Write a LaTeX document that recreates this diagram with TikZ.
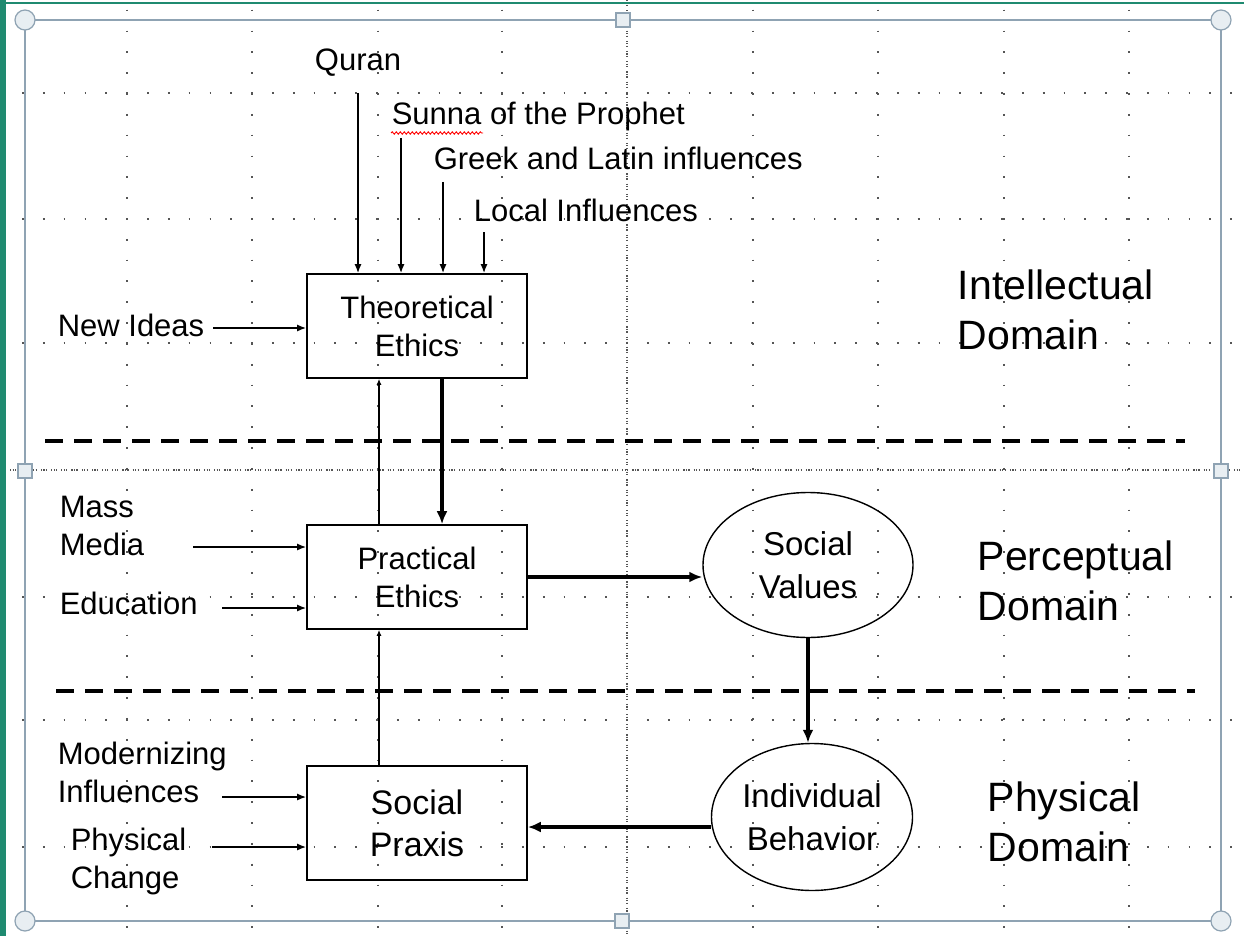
\documentclass[tikz,border=0pt]{standalone}
\usepackage{fontspec}
\setmainfont{Liberation Sans}
\usepackage{tikz}
\usepackage{xcolor}
\usetikzlibrary{shapes}
\usetikzlibrary{positioning, arrows.meta}
\usetikzlibrary{decorations.pathmorphing}
\definecolor{framecol}{HTML}{8FA3B3}
\definecolor{handlecol}{HTML}{E8EEF2}
\definecolor{tealcol}{HTML}{1F8A70}
\definecolor{gridcol}{HTML}{555555}

\begin{document}
\begin{tikzpicture}[x=1pt, y=-1pt, line width=1.6pt,
    box/.style = {draw, rectangle, minimum width=220pt, minimum height=104pt, align=center, font=\fontsize{31}{38}\selectfont},
    oval/.style = {draw, ellipse, line width=1.4pt, inner sep=0pt, minimum width=210pt, minimum height=145pt, align=center, font=\fontsize{33}{43}\selectfont},
    lbl/.style = {align=left, inner sep=0pt, font=\fontsize{31}{38}\selectfont},
    realm/.style = {anchor=west, align=left, inner sep=0pt, font=\fontsize{41}{50}\selectfont},
    feed/.style = {-{Latex[length=9pt,width=7pt]}, line width=1.6pt},
    flow/.style = {-{Latex[length=13pt,width=11pt]}, line width=3.6pt},
    back/.style = {-{Latex[length=6pt,width=5pt]}, line width=1.6pt},
    divider/.style = {dash pattern=on 18pt off 11pt, line width=4pt},
    dotgrid/.style = {gridcol, line width=1.8pt, dash pattern=on 1.8pt off 19.03pt},
    guide/.style = {gridcol, line width=1.2pt, dash pattern=on 1.2pt off 1.3pt on 1.2pt off 1.3pt on 1.2pt off 4pt}]
    \useasboundingbox (0,0) rectangle (1244,936);
    \fill[white] (0,0) rectangle (1244,936);

    % Slide grid and selection frame
    \foreach \gx in {127,252,378,502,753,878,1004,1129}
        \draw[dotgrid] (\gx,9.7) -- (\gx,936);
    \foreach \gy in {93,219,343,597,720,847}
        \draw[dotgrid] (1.2,\gy) -- (1244,\gy);
    \draw[guide] (627,0) -- (627,936);
    \draw[guide] (0,470) -- (1244,470);
    \fill[tealcol] (0,0) rectangle (6,936);
    \draw[tealcol, line width=2pt] (0,3) -- (1244,3);
    \draw[framecol, line width=1.5pt] (25,20) rectangle (1221,921);
    \foreach \hx/\hy in {25/20, 1221/20, 25/921, 1221/921}
        \draw[framecol, fill=handlecol, line width=1.2pt] (\hx,\hy) circle (10pt);
    \foreach \hx/\hy in {623/20, 25/471, 1221/471, 622/921}
        \draw[framecol, fill=handlecol, line width=1.2pt] (\hx-7,\hy-7) rectangle (\hx+7,\hy+7);

    % Nodes
    \node[box] (theo) at (417,326) {Theoretical\\Ethics};
    \node[box] (prac) at (417,577) {Practical\\Ethics};
    \node[box, minimum height=114pt, font=\fontsize{34}{42}\selectfont] (praxis) at (417,823) {Social\\Praxis};
    \node[oval] (values) at (808,565) {Social\\Values};
    \node[oval, minimum width=201pt, minimum height=147pt] (behav) at (812,817) {Individual\\Behavior};

    \node[lbl] (quran) at (358,63) {Quran};
    \node[lbl, anchor=west] (sunna) at (391,116) {Sunna of the Prophet};
    \node[lbl, anchor=west] (greek) at (433,158) {Greek and Latin influences};
    \node[lbl, anchor=west] (local) at (473,210) {Local Influences};
    \node[lbl, anchor=west] (ideas) at (57,325) {New Ideas};
    \node[lbl, anchor=west] (media) at (59,526) {Mass\\Media};
    \node[lbl, anchor=west] (edu) at (59,603) {Education};
    \node[lbl, anchor=west] (modern) at (57,772) {Modernizing\\Influences};
    \node[lbl, anchor=west] (change) at (70,861) {Physical\\Change};

    \node[realm] (intel) at (957,310) {Intellectual\\Domain};
    \node[realm] (percep) at (977,581) {Perceptual\\Domain};
    \node[realm] (phys) at (987,822) {Physical\\Domain};

    % spell check mark
    \draw[red, line width=0.9pt, decorate, decoration={snake, amplitude=1.2pt, segment length=4pt}] (391,133) -- (483,133);

    % Domain borders
    \draw[divider] (45,441) -- (1185,441);
    \draw[divider] (56,691) -- (1195,691);

    % Lines
    \coordinate (q0) at (358,93);
    \coordinate (s0) at (401,138);
    \coordinate (g0) at (443,182);
    \coordinate (l0) at (484,232);
    \foreach \c in {q0,s0,g0,l0}
        \draw[feed] (\c) -- (\c |- theo.north);

    \coordinate (i0) at (213,328);
    \coordinate (m0) at (193,547);
    \coordinate (e0) at (222,608);
    \coordinate (n0) at (222,797);
    \coordinate (c0) at (212,847);
    \draw[feed] (i0) -- (i0 -| theo.west);
    \draw[feed] (m0) -- (m0 -| prac.west);
    \draw[feed] (e0) -- (e0 -| prac.west);
    \draw[feed] (n0) -- (n0 -| praxis.west);
    \draw[feed] (c0) -- (c0 -| praxis.west);

    \draw[back] ([xshift=-38pt]prac.north) -- ([xshift=-38pt]theo.south);
    \draw[back] ([xshift=-38pt]praxis.north) -- ([xshift=-38pt]prac.south);
    \draw[flow] ([xshift=25pt]theo.south) -- ([xshift=25pt]prac.north);
    \draw[flow] (prac.east) -- (values.west |- prac.east);
    \draw[flow] (values.south) -- (values.south |- behav.north);
    \draw[flow] ([yshift=-10pt]behav.west) -- ([yshift=-10pt]behav.west -| praxis.east);
\end{tikzpicture}
\end{document}
